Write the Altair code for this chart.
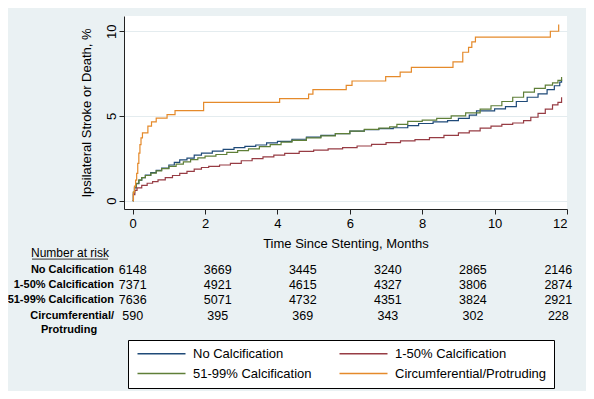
import altair as alt
import pandas as pd

groups = ["No Calcification", "1-50% Calcification", "51-99% Calcification", "Circumferential/Protruding"]
colors = ["#1f4a78", "#973c44", "#5f7f38", "#e58a2b"]

no_t = [0, 0.02, 0.05, 0.1, 0.17, 0.25, 0.35, 0.5, 0.65, 0.8, 1.0, 1.15, 1.3, 1.5, 1.7, 1.9, 2.2, 2.5,
        2.8, 3.1, 3.4, 3.7, 4.0, 4.4, 4.8, 5.2, 5.6, 6.0, 6.4, 6.8, 7.2, 7.6, 7.9, 8.3, 8.7, 9.0, 9.3,
        9.5, 10.0, 10.3, 10.6, 10.9, 11.2, 11.45, 11.65, 11.8, 11.85]
no_v = [0, 0.45, 0.75, 1.0, 1.2, 1.35, 1.5, 1.65, 1.78, 1.92, 2.1, 2.25, 2.4, 2.5, 2.68, 2.8, 2.92, 3.02,
        3.12, 3.2, 3.28, 3.4, 3.5, 3.62, 3.75, 3.85, 3.95, 4.1, 4.18, 4.25, 4.3, 4.42, 4.55, 4.65, 4.72,
        4.85, 5.05, 5.3, 5.42, 5.55, 5.85, 6.1, 6.3, 6.55, 6.78, 7.0, 7.15]

low_t = [0, 0.02, 0.06, 0.12, 0.25, 0.4, 0.55, 0.7, 0.9, 1.1, 1.3, 1.5, 1.7, 1.9, 2.1, 2.4, 2.7, 3.0,
         3.3, 3.6, 3.9, 4.2, 4.6, 5.0, 5.4, 5.8, 6.2, 6.6, 7.0, 7.4, 7.8, 8.2, 8.6, 9.0, 9.3, 9.6, 9.9,
         10.2, 10.5, 10.8, 11.0, 11.2, 11.4, 11.6, 11.75, 11.85]
low_v = [0, 0.35, 0.6, 0.75, 0.9, 1.02, 1.12, 1.22, 1.35, 1.48, 1.6, 1.72, 1.85, 1.95, 2.02, 2.1, 2.2,
         2.35, 2.48, 2.58, 2.68, 2.78, 2.9, 2.98, 3.05, 3.12, 3.22, 3.32, 3.42, 3.52, 3.6, 3.72, 3.85,
         4.0, 4.12, 4.28, 4.4, 4.5, 4.58, 4.72, 4.92, 5.15, 5.4, 5.65, 5.8, 6.1]

high_t = [0, 0.02, 0.05, 0.1, 0.17, 0.25, 0.35, 0.5, 0.65, 0.8, 1.0, 1.2, 1.4, 1.6, 1.8, 2.0, 2.3, 2.6,
          2.9, 3.2, 3.5, 3.8, 4.1, 4.4, 4.8, 5.2, 5.6, 6.0, 6.4, 6.8, 7.1, 7.3, 7.6, 8.0, 8.4, 8.8, 9.2,
          9.6, 9.9, 10.2, 10.5, 10.8, 11.1, 11.4, 11.6, 11.75, 11.85]
high_v = [0, 0.5, 0.8, 1.02, 1.2, 1.35, 1.48, 1.62, 1.75, 1.88, 2.02, 2.15, 2.28, 2.42, 2.52, 2.62, 2.72,
          2.85, 2.95, 3.05, 3.18, 3.3, 3.45, 3.55, 3.7, 3.82, 3.95, 4.1, 4.2, 4.28, 4.35, 4.5, 4.68, 4.75,
          4.85, 5.0, 5.18, 5.4, 5.6, 5.85, 6.1, 6.4, 6.62, 6.82, 6.95, 7.1, 7.3]

circ_t = [0, 0.02, 0.05, 0.08, 0.11, 0.14, 0.17, 0.2, 0.23, 0.27, 0.42, 0.52, 0.65, 0.95, 1.17, 1.96,
          4.06, 4.86, 4.98, 5.9, 6.06, 6.99, 7.39, 7.7, 8.85, 9.12, 9.28, 9.37, 9.47, 11.54, 11.77]
circ_v = [0, 0.5, 0.85, 1.2, 1.6, 2.2, 2.8, 3.3, 3.7, 4.0, 4.4, 4.65, 4.87, 5.07, 5.31, 5.8,
          6.02, 6.29, 6.55, 6.8, 7.06, 7.32, 7.59, 7.87, 8.19, 8.76, 9.05, 9.37, 9.65, 10.0, 10.4]

# number at risk table
risk_cols = [0, 2.35, 4.7, 7.05, 9.4, 11.76]   # column positions on the time axis
risk_no = [6148, 3669, 3445, 3240, 2865, 2146]
risk_low = [7371, 4921, 4615, 4327, 3806, 2874]
risk_high = [7636, 5071, 4732, 4351, 3824, 2921]
risk_circ = [590, 395, 369, 343, 302, 228]
row_labels = ["No Calcification", "1-50% Calcification", "51-99% Calcification", "Circumferential/"]

curve_rows = []
for g, ts, vs in zip(groups, [no_t, low_t, high_t, circ_t], [no_v, low_v, high_v, circ_v]):
    for t, v in zip(ts, vs):
        curve_rows.append({"g": g, "t": t, "v": v})
curves = pd.DataFrame(curve_rows)

risk_rows = []
for r, counts in enumerate([risk_no, risk_low, risk_high, risk_circ]):
    for t, n in zip(risk_cols, counts):
        risk_rows.append({"row": r, "t": t, "n": str(n)})
risk = pd.DataFrame(risk_rows)
labels = pd.DataFrame({"row": list(range(4)), "label": row_labels})

FONT = "Liberation Sans"

lines = alt.Chart(curves).mark_line(interpolate="step-after", strokeWidth=1.2, clip=True).encode(
    x=alt.X("t:Q", scale=alt.Scale(domain=[-0.24, 12], nice=False, zero=False),
            axis=alt.Axis(values=[0, 2, 4, 6, 8, 10, 12], title="Time Since Stenting, Months",
                          grid=False, labelPadding=3, titlePadding=7)),
    y=alt.Y("v:Q", scale=alt.Scale(domain=[-0.5, 10.9], nice=False, zero=False),
            axis=alt.Axis(values=[0, 5, 10], title="Ipsilateral Stroke or Death, %", grid=True,
                          gridColor="#e4ecef", gridWidth=1, labelAngle=270, labelAlign="center",
                          labelBaseline="bottom", labelPadding=1, titlePadding=12)),
    color=alt.Color("g:N", scale=alt.Scale(domain=groups, range=colors),
                    legend=alt.Legend(title=None, orient="none", legendX=4, legendY=324, columns=2,
                                      direction="horizontal",
                                      symbolType="M-6,0H6", symbolSize=64, symbolOffset=20,
                                      symbolStrokeWidth=1.3,
                                      labelFont=FONT, labelFontSize=13, labelColor="#000",
                                      labelOffset=25, labelLimit=400, strokeColor="#000",
                                      fillColor="white", padding=7, columnPadding=24, rowPadding=6)),
)

ry = alt.Y("row:Q", scale=alt.Scale(domain=[0, 3], range=[254, 299.5]), axis=None)

risk_text = alt.Chart(risk).mark_text(font=FONT, fontSize=12.5, baseline="middle", align="center",
                                      color="#000").encode(
    x=alt.X("t:Q"), y=ry, text="n:N")

label_text = alt.Chart(labels).mark_text(font=FONT, fontSize=11, fontWeight="bold", baseline="middle",
                                         align="right", color="#000").encode(
    x=alt.value(-10), y=ry, text="label:N")

extra = alt.Chart(pd.DataFrame({"row": [3], "label": ["Protruding"]})).mark_text(
    font=FONT, fontSize=11, fontWeight="bold", baseline="middle", align="center", dy=14,
    color="#000").encode(x=alt.value(-55), y=ry, text="label:N")

nar = alt.Chart(pd.DataFrame({"row": [-1.1], "label": ["Number at risk"]})).mark_text(
    font=FONT, fontSize=12, baseline="middle", align="center", color="#000").encode(
    x=alt.value(-54), y=ry, text="label:N")

underline = alt.Chart(pd.DataFrame({"row": [-0.72]})).mark_rule(color="#000", strokeWidth=0.8).encode(
    x=alt.value(-92), x2=alt.value(-16), y=ry)

chart = alt.layer(lines, risk_text, label_text, extra, nar, underline).resolve_scale(
    y="independent"
).properties(
    width=443, height=193,
    autosize=alt.AutoSizeParams(type="none"),
    padding={"left": 116, "top": 8, "right": 19, "bottom": 182},
    background="#eaf1f3",
).configure_view(
    stroke=None, fill="white"
).configure_axis(
    labelFont=FONT, titleFont=FONT, labelFontSize=13, titleFontSize=13, titleFontWeight="normal",
    labelColor="#000", titleColor="#000", domainColor="#222", tickColor="#222", tickSize=5,
    domainWidth=1, tickWidth=1
)

chart.save("out.html", embed_options={"renderer": "svg", "actions": False})
